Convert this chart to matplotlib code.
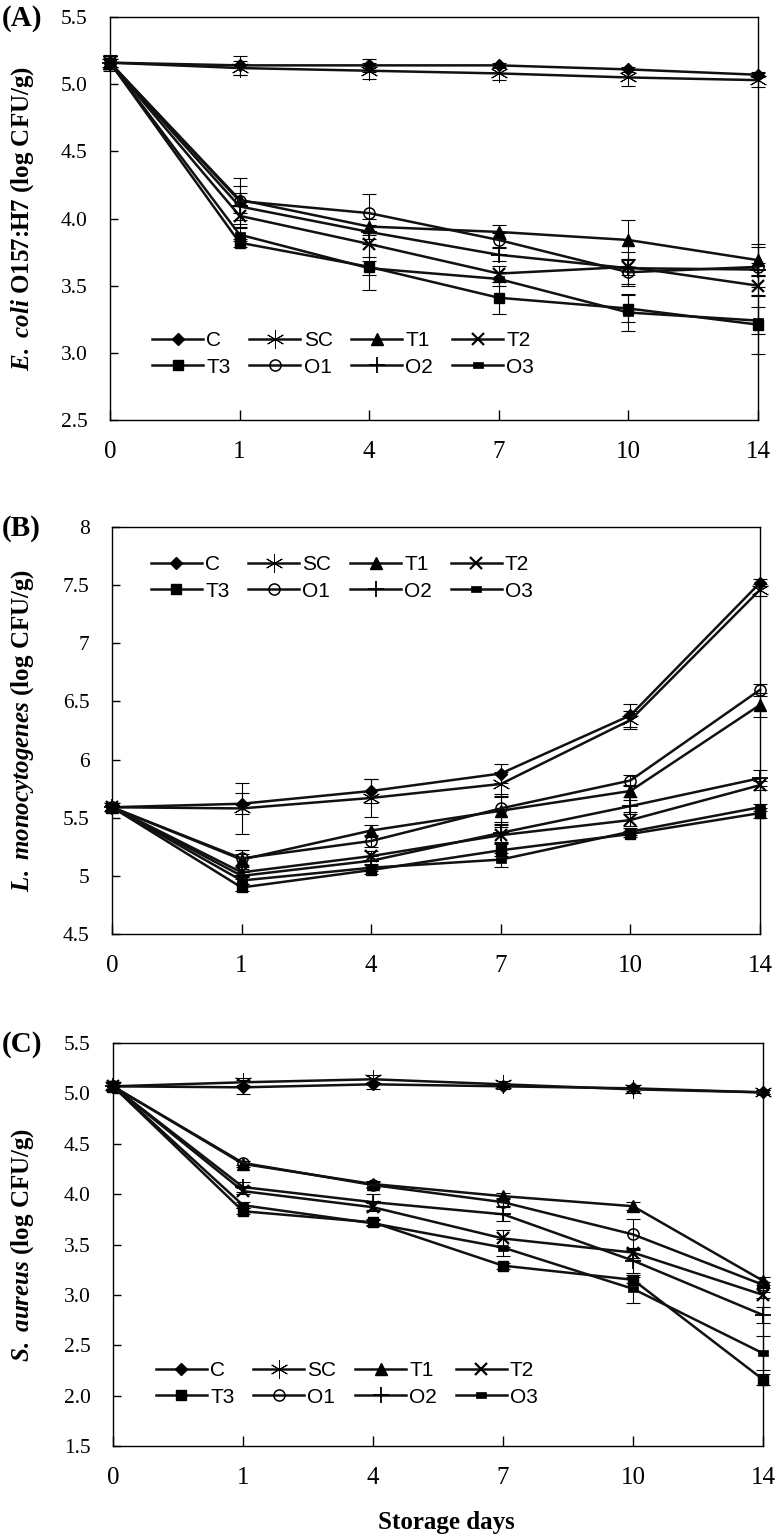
import matplotlib
matplotlib.use('Agg')
import matplotlib.pyplot as plt
from matplotlib.lines import Line2D
from matplotlib.path import Path

plt.rcParams['mathtext.fontset'] = 'custom'
plt.rcParams['mathtext.it'] = 'Liberation Serif:italic:bold'
plt.rcParams['mathtext.rm'] = 'Liberation Serif:bold'

days = ['0', '1', '4', '7', '10', '14']
series = ['C', 'SC', 'T1', 'T2', 'T3', 'O1', 'O2', 'O3']

# (A) E. coli O157:H7
ecoli = {
    'C':  [5.16, 5.14, 5.14, 5.14, 5.11, 5.07],
    'SC': [5.16, 5.12, 5.10, 5.08, 5.05, 5.03],
    'T1': [5.16, 4.14, 3.94, 3.90, 3.84, 3.69],
    'T2': [5.16, 4.02, 3.81, 3.59, 3.64, 3.50],
    'T3': [5.16, 3.82, 3.64, 3.41, 3.33, 3.21],
    'O1': [5.16, 4.13, 4.04, 3.84, 3.60, 3.64],
    'O2': [5.16, 4.09, 3.90, 3.73, 3.63, 3.62],
    'O3': [5.16, 3.88, 3.63, 3.55, 3.30, 3.24],
}
ecoli_err = {
    'C':  [0.06, 0.07, 0.05, 0.02, 0.02, 0.02],
    'SC': [0.05, 0.05, 0.06, 0.05, 0.06, 0.05],
    'T1': [0.05, 0.10, 0.06, 0.05, 0.15, 0.12],
    'T2': [0.05, 0.08, 0.10, 0.06, 0.06, 0.08],
    'T3': [0.05, 0.03, 0.17, 0.12, 0.10, 0.22],
    'O1': [0.05, 0.17, 0.14, 0.05, 0.10, 0.15],
    'O2': [0.05, 0.10, 0.05, 0.05, 0.12, 0.05],
    'O3': [0.05, 0.05, 0.05, 0.05, 0.14, 0.10],
}

# (B) L. monocytogenes
listeria = {
    'C':  [5.59, 5.62, 5.73, 5.88, 6.38, 7.52],
    'SC': [5.59, 5.58, 5.67, 5.79, 6.34, 7.46],
    'T1': [5.59, 5.14, 5.39, 5.56, 5.73, 6.47],
    'T2': [5.59, 5.03, 5.17, 5.35, 5.48, 5.78],
    'T3': [5.59, 4.90, 5.05, 5.22, 5.36, 5.54],
    'O1': [5.59, 5.15, 5.30, 5.58, 5.82, 6.60],
    'O2': [5.59, 5.00, 5.13, 5.37, 5.60, 5.84],
    'O3': [5.59, 4.96, 5.07, 5.14, 5.38, 5.59],
}
listeria_err = {
    'C':  [0.02, 0.09, 0.10, 0.08, 0.10, 0.03],
    'SC': [0.02, 0.22, 0.16, 0.10, 0.08, 0.05],
    'T1': [0.02, 0.05, 0.05, 0.12, 0.05, 0.10],
    'T2': [0.02, 0.03, 0.04, 0.07, 0.05, 0.04],
    'T3': [0.02, 0.03, 0.03, 0.05, 0.03, 0.04],
    'O1': [0.02, 0.07, 0.05, 0.12, 0.05, 0.05],
    'O2': [0.02, 0.03, 0.04, 0.08, 0.05, 0.07],
    'O3': [0.02, 0.03, 0.03, 0.06, 0.03, 0.03],
}

# (C) S. aureus
aureus = {
    'C':  [5.07, 5.06, 5.09, 5.07, 5.05, 5.01],
    'SC': [5.07, 5.11, 5.14, 5.09, 5.04, 5.01],
    'T1': [5.07, 4.30, 4.10, 3.98, 3.88, 3.14],
    'T2': [5.07, 4.03, 3.87, 3.56, 3.42, 3.00],
    'T3': [5.07, 3.83, 3.72, 3.29, 3.15, 2.16],
    'O1': [5.07, 4.31, 4.09, 3.92, 3.60, 3.10],
    'O2': [5.07, 4.07, 3.92, 3.80, 3.34, 2.80],
    'O3': [5.07, 3.89, 3.71, 3.47, 3.06, 2.42],
}
aureus_err = {
    'C':  [0.03, 0.07, 0.05, 0.03, 0.03, 0.02],
    'SC': [0.03, 0.04, 0.04, 0.03, 0.04, 0.02],
    'T1': [0.03, 0.03, 0.03, 0.03, 0.04, 0.04],
    'T2': [0.03, 0.03, 0.04, 0.08, 0.05, 0.03],
    'T3': [0.03, 0.03, 0.03, 0.03, 0.03, 0.05],
    'O1': [0.03, 0.02, 0.03, 0.04, 0.15, 0.03],
    'O2': [0.03, 0.05, 0.08, 0.07, 0.12, 0.08],
    'O3': [0.03, 0.03, 0.03, 0.08, 0.14, 0.17],
}

# marker styles
rect = Path([(-1, -0.6), (1, -0.6), (1, 0.6), (-1, 0.6), (-1, -0.6)])
styles = {
    'C':  dict(marker='D', ms=6, mfc='black', mew=1),
    'SC': dict(marker=(6, 2, 0), ms=13, mfc='black', mew=0.7),
    'T1': dict(marker='^', ms=8, mfc='black', mew=1),
    'T2': dict(marker='x', ms=8, mfc='black', mew=1.6),
    'T3': dict(marker='s', ms=7, mfc='black', mew=1),
    'O1': dict(marker='o', ms=8, mfc='none', mew=1.1),
    'O2': dict(marker='+', ms=11, mfc='black', mew=1.3),
    'O3': dict(marker=rect, ms=7, mfc='black', mew=0.5),
}

W, H = 779, 1537
fig = plt.figure(figsize=(W / 100, H / 100), dpi=100)


def add_ax(l, r, t, b):
    return fig.add_axes([l / W, 1 - b / H, (r - l) / W, (b - t) / H])


def draw_panel(ax, data, err, ylim, yticks, ylabels, legpos):
    x = list(range(len(days)))
    for s in series:
        ax.errorbar(x, data[s], yerr=err[s], fmt='none', ecolor='black',
                    elinewidth=0.8, capsize=5, capthick=0.8, clip_on=False)
        ax.plot(x, data[s], color='#111111', lw=1.8, mec='black',
                clip_on=False, **styles[s])
    ax.set_xlim(0, 5)
    ax.set_ylim(*ylim)
    ax.set_xticks(x)
    ax.set_xticklabels(days, fontfamily='Liberation Serif', fontsize=18)
    ax.set_yticks(yticks)
    ax.set_yticklabels(ylabels, fontfamily='Liberation Serif', fontsize=15.5)
    ax.tick_params(axis='x', direction='in', length=7, width=1, pad=15)
    ax.tick_params(axis='y', direction='in', length=6, width=1, pad=16)
    for sp in ax.spines.values():
        sp.set_linewidth(1.0)
    # legend rows: C SC T1 T2 / T3 O1 O2 O3
    handles = {s: Line2D([], [], color='#111111', lw=1.8, mec='black', **styles[s])
               for s in series}
    order = ['C', 'T3', 'SC', 'O1', 'T1', 'O2', 'T2', 'O3']
    ax.legend([handles[s] for s in order], order, ncol=4, loc='upper left',
              bbox_to_anchor=legpos, frameon=False, borderpad=0, borderaxespad=0,
              handlelength=2.45, handletextpad=0.15, columnspacing=0.9,
              labelspacing=0.35, prop={'family': 'Liberation Sans', 'size': 15})


axA = add_ax(110, 758, 17, 420)
draw_panel(axA, ecoli, ecoli_err, (2.5, 5.5),
           [2.5, 3.0, 3.5, 4.0, 4.5, 5.0, 5.5],
           ['2.5', '3.0', '3.5', '4.0', '4.5', '5.0', '5.5'], (0.065, 0.22))

axB = add_ax(112, 760, 527, 934)
draw_panel(axB, listeria, listeria_err, (4.5, 8),
           [4.5, 5, 5.5, 6, 6.5, 7, 7.5, 8],
           ['4.5', '5', '5.5', '6', '6.5', '7', '7.5', '8'], (0.06, 0.93))

axC = add_ax(113, 763, 1043, 1446)
draw_panel(axC, aureus, aureus_err, (1.5, 5.5),
           [1.5, 2.0, 2.5, 3.0, 3.5, 4.0, 4.5, 5.0, 5.5],
           ['1.5', '2.0', '2.5', '3.0', '3.5', '4.0', '4.5', '5.0', '5.5'], (0.066, 0.21))

ylab = [(r'$\mathit{E.\ coli}$ O157:H7 (log CFU/g)', (17 + 420) / 2),
        (r'$\mathit{L.\ monocytogenes}$ (log CFU/g)', (527 + 934) / 2),
        (r'$\mathit{S.\ aureus}$ (log CFU/g)', (1043 + 1446) / 2)]
for txt, yc in ylab:
    fig.text(23 / W, 1 - yc / H, txt, rotation=90, ha='center', va='center',
             fontfamily='Liberation Serif', fontweight='bold', fontsize=18)

for lab, yc in [('(A)', 18), ('(B)', 528), ('(C)', 1044)]:
    fig.text(2 / W, 1 - yc / H, lab, ha='left', va='center',
             fontfamily='Liberation Serif', fontweight='bold', fontsize=21)

fig.text(446 / W, 1 - 1522 / H, 'Storage days', ha='center', va='center',
         fontfamily='Liberation Serif', fontweight='bold', fontsize=18)

fig.savefig('out.png', dpi=100)
